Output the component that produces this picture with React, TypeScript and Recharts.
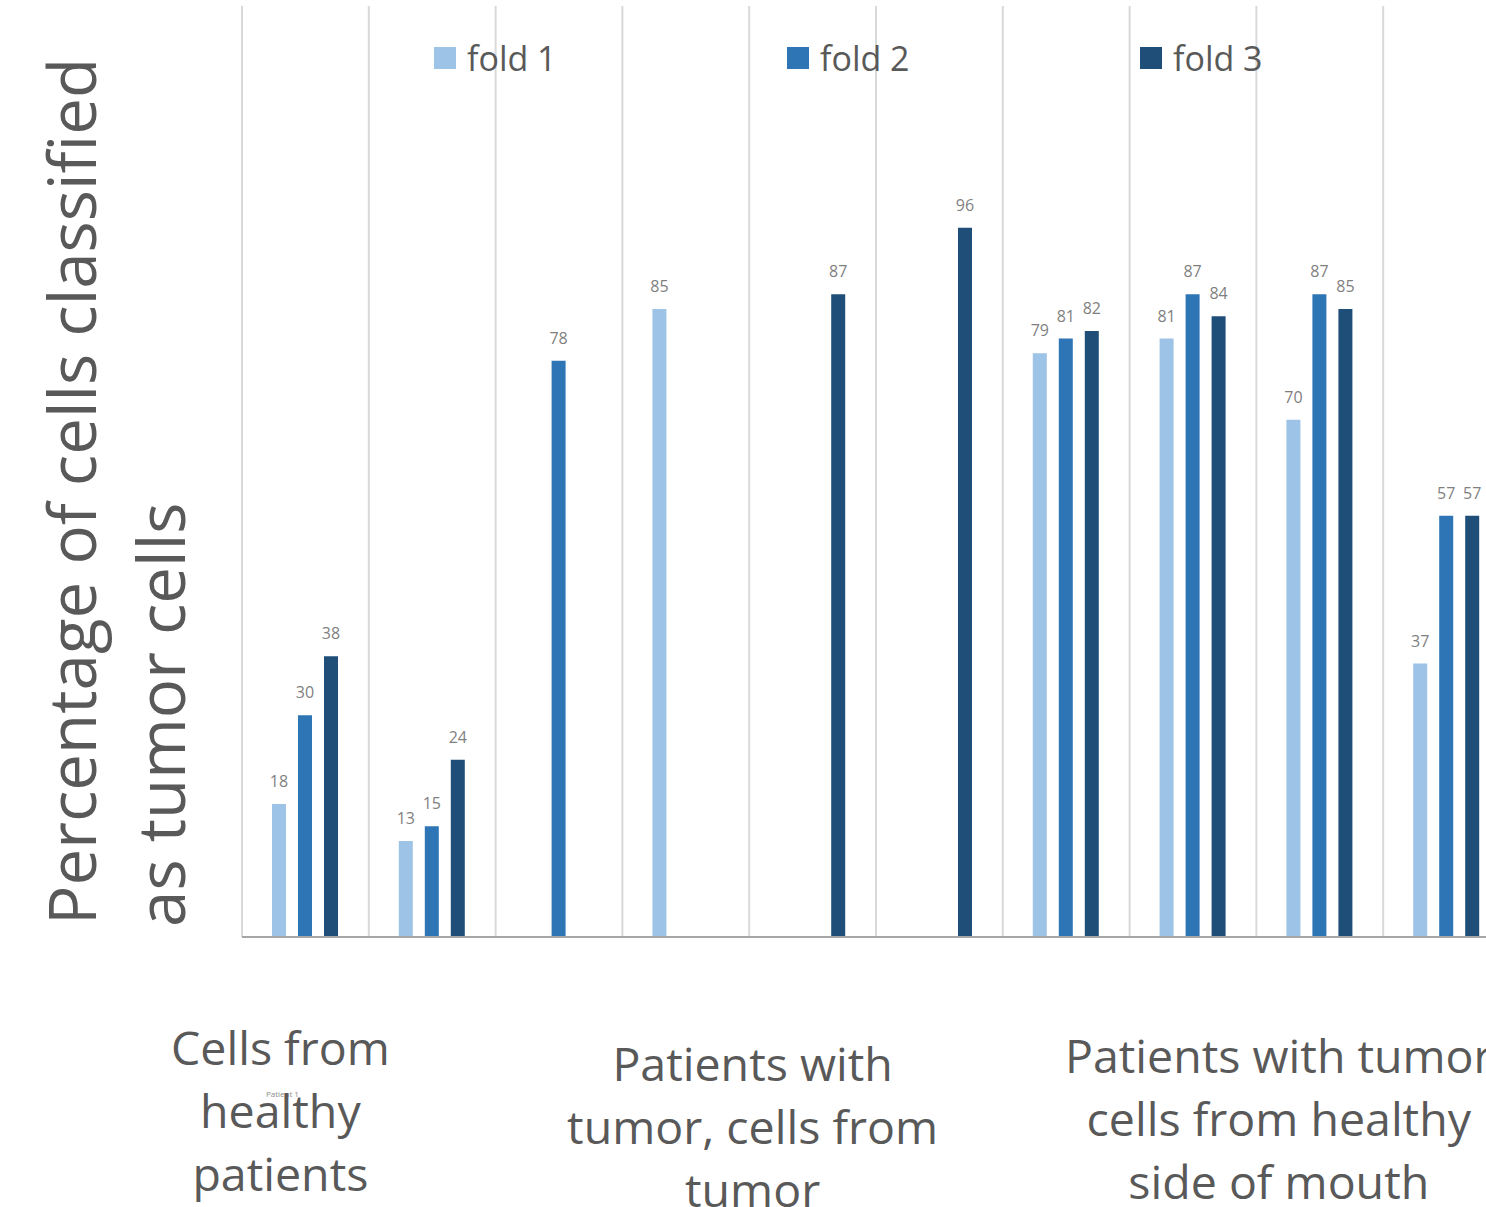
import { BarChart, Bar, XAxis, YAxis, CartesianGrid, Legend, LabelList } from "recharts";

const categories = [
  "Patient 1",
  "Patient 2",
  "Patient 3",
  "Patient 4",
  "Patient 5",
  "Patient 6",
  "Patient 7",
  "Patient 8",
  "Patient 9",
  "Patient 10",
];
const fold1 = [18, 13, null, 85, null, null, 79, 81, 70, 37];
const fold2 = [30, 15, 78, null, null, null, 81, 87, 87, 57];
const fold3 = [38, 24, null, null, 87, 96, 82, 84, 85, 57];

const groupLabels = [
  { at: 0, dx: -25, dy: 128, lines: ["Cells from", "healthy", "patients"] },
  { at: 4, dx: -60, dy: 144, lines: ["Patients with", "tumor, cells from", "tumor"] },
  { at: 8, dx: -41, dy: 136, lines: ["Patients with tumor", "cells from healthy", "side of mouth"] },
];

const yLabelLines = ["Percentage of cells classified", "as tumor cells"];

const data = categories.map((name, i) => ({
  name,
  fold1: fold1[i],
  fold2: fold2[i],
  fold3: fold3[i],
}));

const FONT = "'Open Sans', sans-serif";
const TEXT = "#595959";

function GroupTick(props: any) {
  const { x, y, index, payload } = props;
  const group = groupLabels.find((g) => g.at === index);
  return (
    <g>
      {index === 0 && (
        <text x={x - 23} y={y + 160} fontSize={8} fill="#8c8c8c" textAnchor="middle" fontFamily={FONT}>
          {payload.value}
        </text>
      )}
      {group &&
        group.lines.map((line, k) => (
          <text
            key={k}
            x={x + group.dx}
            y={y + group.dy + k * 63}
            fontSize={46.5}
            fill={TEXT}
            textAnchor="middle"
            fontFamily={FONT}
          >
            {line}
          </text>
        ))}
    </g>
  );
}

function LegendContent(props: any) {
  const { payload } = props;
  return (
    <div style={{ display: "flex", fontFamily: FONT }}>
      {payload.map((entry: any) => (
        <div
          key={entry.value}
          style={{ width: 353, display: "flex", alignItems: "center", height: 34 }}
        >
          <span
            style={{
              width: 22,
              height: 22,
              background: entry.color,
              display: "inline-block",
              marginRight: 11,
            }}
          />
          <span style={{ fontSize: 34, lineHeight: "34px", color: TEXT }}>{entry.value}</span>
        </div>
      ))}
    </div>
  );
}

const hideEmpty = (v: any) => (v == null ? "" : v);

export default function App() {
  return (
    <div
      style={{
        position: "absolute",
        left: 0,
        top: 0,
        width: 1486,
        height: 1207,
        overflow: "hidden",
        background: "#fff",
      }}
    >
      <BarChart
        width={1520}
        height={1207}
        data={data}
        margin={{ top: 6, right: 10, left: 242, bottom: 0 }}
        barSize={14}
        barGap={12}
        style={{ fontFamily: FONT }}
      >
        <CartesianGrid
          horizontal={false}
          stroke="#d9d9d9"
          strokeWidth={2}
          verticalCoordinatesGenerator={({ offset }: any) =>
            Array.from({ length: categories.length + 1 }, (_, i) => offset.left + (i * offset.width) / categories.length)
          }
        />
        <XAxis
          dataKey="name"
          height={270}
          interval={0}
          tickLine={false}
          tickSize={0}
          tickMargin={0}
          axisLine={{ stroke: "#a6a6a6", strokeWidth: 2 }}
          tick={<GroupTick />}
        />
        <YAxis hide domain={[0, 126]} />
        <Legend
          verticalAlign="middle"
          align="center"
          layout="horizontal"
          wrapperStyle={{ top: 41, left: 434, width: 1060 }}
          content={<LegendContent />}
        />
        <Bar dataKey="fold1" name="fold 1" fill="#9DC3E6" isAnimationActive={false}>
          <LabelList dataKey="fold1" position="top" offset={17} fontSize={16} fill="#7f7f7f" formatter={hideEmpty} />
        </Bar>
        <Bar dataKey="fold2" name="fold 2" fill="#2E75B6" isAnimationActive={false}>
          <LabelList dataKey="fold2" position="top" offset={17} fontSize={16} fill="#7f7f7f" formatter={hideEmpty} />
        </Bar>
        <Bar dataKey="fold3" name="fold 3" fill="#1F4E79" isAnimationActive={false}>
          <LabelList dataKey="fold3" position="top" offset={17} fontSize={16} fill="#7f7f7f" formatter={hideEmpty} />
        </Bar>
        <g>
          <text
            x={96}
            y={925}
            transform="rotate(-90 96 925)"
            fontSize={65.5}
            fill={TEXT}
            fontFamily={FONT}
          >
            {yLabelLines[0]}
          </text>
          <text
            x={185}
            y={927}
            transform="rotate(-90 185 927)"
            fontSize={65.5}
            fill={TEXT}
            fontFamily={FONT}
          >
            {yLabelLines[1]}
          </text>
        </g>
      </BarChart>
    </div>
  );
}
